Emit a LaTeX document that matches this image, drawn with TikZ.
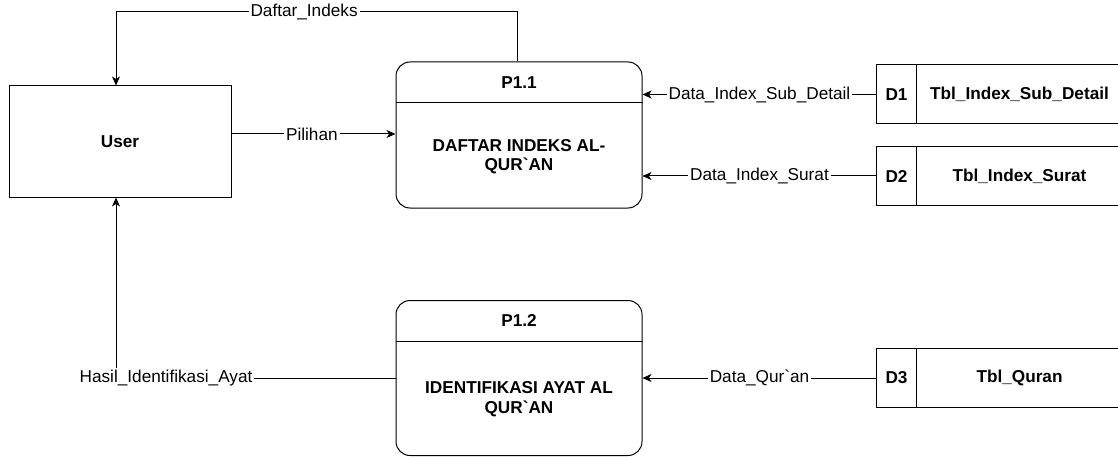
\documentclass[tikz,border=0pt]{standalone}
\usepackage{fontspec}
\setmainfont{Liberation Sans}
\usetikzlibrary{arrows.meta,calc}
\begin{document}
\begin{tikzpicture}[x=1pt,y=-1pt,
  font=\fontsize{17.2}{19.5}\selectfont,
  line width=1pt,
  arr/.style={-{Stealth[length=9pt,width=8pt,inset=2.5pt]}},
  lbl/.style={fill=white,inner sep=2pt,font=\fontsize{17.2}{19.5}\selectfont},
  bx/.style={draw,minimum width=222pt,minimum height=111pt,inner sep=0pt},
  proc/.style={draw,rounded corners=14pt,minimum width=246pt,inner sep=0pt},
  storebox/.style={minimum width=246pt,minimum height=58pt,inner sep=0pt},
  bt/.style={font=\bfseries\fontsize{17.2}{19.5}\selectfont,align=center}]
\useasboundingbox (0,0) rectangle (1118,457);

% User
\node[bx,bt] (user) at (120,141.5) {User};

% P1.1
\node[proc,minimum height=146pt] (p11) at (519,135) {};
\draw (p11.west |- 0,103) coordinate (p11l) -- (p11.east |- 0,103) coordinate (p11r);
\node[bt] (p11id) at (519,82.5) {P1.1};
\node[bt] (p11txt) at (519,156.5) {DAFTAR INDEKS AL-\\QUR\textasciigrave AN};

% P1.2
\node[proc,minimum height=155pt] (p12) at (519,378) {};
\draw (p12.west |- 0,341) coordinate (p12l) -- (p12.east |- 0,341) coordinate (p12r);
\node[bt] (p12id) at (519,320.5) {P1.2};
\node[bt] (p12txt) at (519,399) {IDENTIFIKASI AYAT AL\\QUR\textasciigrave AN};

% Data stores
\foreach \n/\y/\id/\t in {d1/94.5/D1/Tbl\_Index\_Sub\_Detail, d2/176/D2/Tbl\_Index\_Surat, d3/378/D3/Tbl\_Quran}{
  \node[storebox] (\n) at (1000,\y) {};
  \draw (\n.north east) -- (\n.north west) -- (\n.south west) -- (\n.south east);
  \draw ([xshift=40pt]\n.north west) -- ([xshift=40pt]\n.south west);
  \node[bt] (\n id) at ([xshift=20pt]\n.west) {\id};
  \node[bt] (\n name) at ([xshift=143pt]\n.west) {\t};
}

% Connectors
\coordinate (ut) at ([xshift=-4pt]user.north);
\coordinate (ub) at ([xshift=-4pt]user.south);
\coordinate (pt) at ([xshift=-2pt]p11.north);
\coordinate (pl) at ([yshift=7.5pt]user.east);

\draw[arr] (pt) -- (pt |- 0,12) -- node[lbl,pos=0.531] {Daftar\_Indeks} (ut |- 0,12) -- (ut);
\draw[arr] (pl) -- node[lbl,pos=0.49] {Pilihan} (pl -| p11.west);
\draw[arr] (d1.west) -- node[lbl] {Data\_Index\_Sub\_Detail} (d1.west -| p11.east);
\draw[arr] (d2.west) -- node[lbl] {Data\_Index\_Surat} (d2.west -| p11.east);
\draw[arr] (d3.west) -- node[lbl] {Data\_Qur\textasciigrave an} (d3.west -| p12.east);
\draw[arr] (p12.west) -- node[lbl,pos=0.821] {Hasil\_Identifikasi\_Ayat} (ub |- p12.west) -- (ub);
\end{tikzpicture}
\end{document}
